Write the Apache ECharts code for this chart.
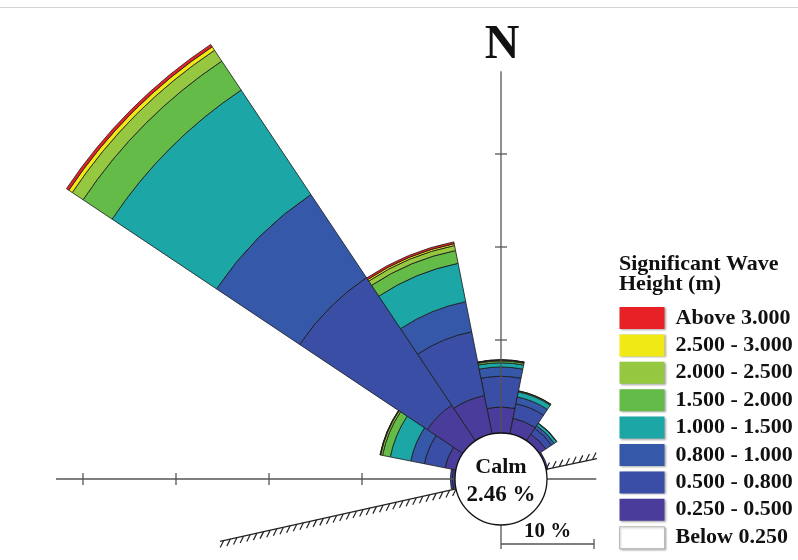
<!DOCTYPE html>
<html>
<head>
<meta charset="utf-8">
<script src="https://cdn.jsdelivr.net/npm/echarts@6/dist/echarts.min.js"></script>
<style>html,body{margin:0;padding:0;background:#fff;}#chart{width:798px;height:560px;}</style>
</head>
<body>
<div id="chart"></div>
<script>
// ---- data ----
const directions = ['N','NNE','NE','ENE','E','ESE','SE','SSE','S','SSW','SW','WSW','W','WNW','NW','NNW'];
const classNames = ['Below 0.250','0.250 - 0.500','0.500 - 0.800','0.800 - 1.000','1.000 - 1.500','1.500 - 2.000','2.000 - 2.500','2.500 - 3.000','Above 3.000'];
const below025 = [0,0,0,0,0,0,0,0,0,0,0,0,0,0,0,0];
const h025_050 = [2.8,1.7,0.85,0.2,0,0,0,0,0,0,0,0,0.3,1.2,4.6,4.2];
const h050_080 = [3.3,1.6,0.75,0,0,0,0,0,0,0,0,0,0.2,2.25,16.5,7.0];
const h080_100 = [1.0,0.75,0.35,0,0,0,0,0,0,0,0,0,0,1.5,10.75,3.3];
const h100_150 = [0.45,0.55,0.3,0,0,0,0,0,0,0,0,0,0,2.25,13.5,4.2];
const h150_200 = [0.2,0.1,0.05,0,0,0,0,0,0,0,0,0,0,0.85,3.75,1.4];
const h200_250 = [0.08,0.03,0,0,0,0,0,0,0,0,0,0,0,0.2,1.4,0.55];
const h250_300 = [0.03,0,0,0,0,0,0,0,0,0,0,0,0,0.05,0.45,0.2];
const above300 = [0.02,0,0,0,0,0,0,0,0,0,0,0,0,0.02,0.3,0.2];
const calmPct = 2.46;
const westTicks = [10,20,30,40];
const northTicks = [10,20,30];

// ---- style / layout ----
const colors = ['#ffffff','#4a3c9b','#3a4ea6','#3558a8','#1ca6a6','#64bb47','#95c840','#f0e916','#e82127'];
const seriesValues = [below025,h025_050,h050_080,h080_100,h100_150,h150_200,h200_250,h250_300,above300];
const cx = 501, cy = 479, R0 = 46, RMAX = 55, PXPER = 9.3;
const R1 = R0 + RMAX * PXPER;
const FONT = '"Liberation Serif", "Times New Roman", serif';

function P(pct, bearing) {
  const r = R0 + pct * PXPER;
  const a = bearing * Math.PI / 180;
  return [cx + r * Math.sin(a), cy - r * Math.cos(a)];
}

const chart = echarts.init(document.getElementById('chart'), null, {renderer: 'canvas'});

const series = seriesValues.map((vals, i) => ({
  name: classNames[i],
  type: 'bar',
  coordinateSystem: 'polar',
  stack: 'waves',
  barCategoryGap: '0%',
  data: vals.map(v => v > 0 ? v : '-'),
  itemStyle: {color: colors[i], borderColor: '#1a1a1a', borderWidth: 0.8},
  silent: true
}));

const g = [];
const axisStyle = {stroke: '#555', lineWidth: 1.3};
function line(a, b, style, z) {
  g.push({type: 'line', shape: {x1: a[0], y1: a[1], x2: b[0], y2: b[1]}, style: style, z: z || 10});
}
// frame line at top
line([0, 7.5], [798, 7.5], {stroke: '#d4d4d4', lineWidth: 1}, 1);
// axes
line(P(0, 270), P(42.9, 270), axisStyle);
line(P(0, 90), P(5.3, 90), axisStyle);
line(P(0, 0), P(38.9, 0), axisStyle);
westTicks.forEach(t => { const p = P(t, 270); line([p[0], p[1] - 6], [p[0], p[1] + 6], axisStyle); });
northTicks.forEach(t => { const p = P(t, 0); line([p[0] - 6, p[1]], [p[0] + 6, p[1]], axisStyle); });

// shorelines with hatching
function shore(bearing, pctEnd, dx, dy) {
  const a = P(0, bearing), b = P(pctEnd, bearing);
  line(a, b, {stroke: '#222', lineWidth: 1.3}, 11);
  const len = Math.hypot(b[0] - a[0], b[1] - a[1]);
  const n = Math.floor(len / 6.8);
  for (let i = 0; i <= n; i++) {
    const t = i * 6.8 / len;
    const x = a[0] + (b[0] - a[0]) * t, y = a[1] + (b[1] - a[1]) * t;
    line([x, y], [x + dx, y + dy], {stroke: '#222', lineWidth: 1.2}, 11);
  }
}
shore(257.5, 26, -3.5, 7);
shore(78, 5.6, 3.5, -7);

// calm circle
g.push({type: 'circle', shape: {cx: cx, cy: cy, r: R0}, style: {fill: '#fff', stroke: '#111', lineWidth: 1.3}, z: 20});
g.push({type: 'text', x: cx, y: cy - 12, style: {text: 'Calm', font: 'bold 22px ' + FONT, fill: '#111', align: 'center', verticalAlign: 'middle'}, z: 21});
g.push({type: 'text', x: cx, y: cy + 16, style: {text: calmPct.toFixed(2) + ' %', font: 'bold 23px ' + FONT, fill: '#111', align: 'center', verticalAlign: 'middle'}, z: 21});
// North label
g.push({type: 'text', x: cx + 1, y: 46, style: {text: 'N', font: 'bold 48px ' + FONT, fill: '#111', align: 'center', verticalAlign: 'middle'}, z: 21});
// scale bar
const sb0 = [cx, cy + R0], sbY = 544, sbX1 = cx + 10 * PXPER;
line(sb0, [cx, 549], axisStyle);
line([cx, sbY], [sbX1, sbY], axisStyle);
line([sbX1, 539], [sbX1, 549], axisStyle);
g.push({type: 'text', x: (cx + sbX1) / 2, y: 532, style: {text: '10 %', font: 'bold 21px ' + FONT, fill: '#111', align: 'center', verticalAlign: 'middle'}, z: 21});

const legendOrder = classNames.slice().reverse();

chart.setOption({
  animation: false,
  backgroundColor: '#fff',
  title: {
    text: 'Significant Wave\nHeight (m)',
    left: 614, top: 249,
    textStyle: {fontFamily: FONT, fontWeight: 'bold', fontSize: 22, lineHeight: 20, color: '#111'}
  },
  legend: {
    orient: 'vertical', left: 614, top: 302,
    itemWidth: 45, itemHeight: 22, itemGap: 5.4,
    selectedMode: false,
    data: legendOrder.map(n => ({
      name: n, icon: 'rect',
      itemStyle: n === 'Below 0.250'
        ? {borderColor: '#bbb', borderWidth: 1, shadowBlur: 2, shadowColor: 'rgba(0,0,0,0.25)', shadowOffsetX: 1, shadowOffsetY: 1}
        : {borderWidth: 0, shadowBlur: 2, shadowColor: 'rgba(0,0,0,0.35)', shadowOffsetX: 1, shadowOffsetY: 1}
    })),
    textStyle: {fontFamily: FONT, fontWeight: 'bold', fontSize: 22, lineHeight: 22, color: '#111', padding: [0, 0, 0, 6]}
  },
  polar: {center: [cx, cy], radius: [R0, R1]},
  angleAxis: {
    type: 'category', data: directions, startAngle: 90 + 11.25, clockwise: true,
    axisLine: {show: false}, axisTick: {show: false}, axisLabel: {show: false}, splitLine: {show: false}
  },
  radiusAxis: {
    type: 'value', min: 0, max: RMAX,
    axisLine: {show: false}, axisTick: {show: false}, axisLabel: {show: false}, splitLine: {show: false}
  },
  series: series,
  graphic: g
});
</script>
</body>
</html>
